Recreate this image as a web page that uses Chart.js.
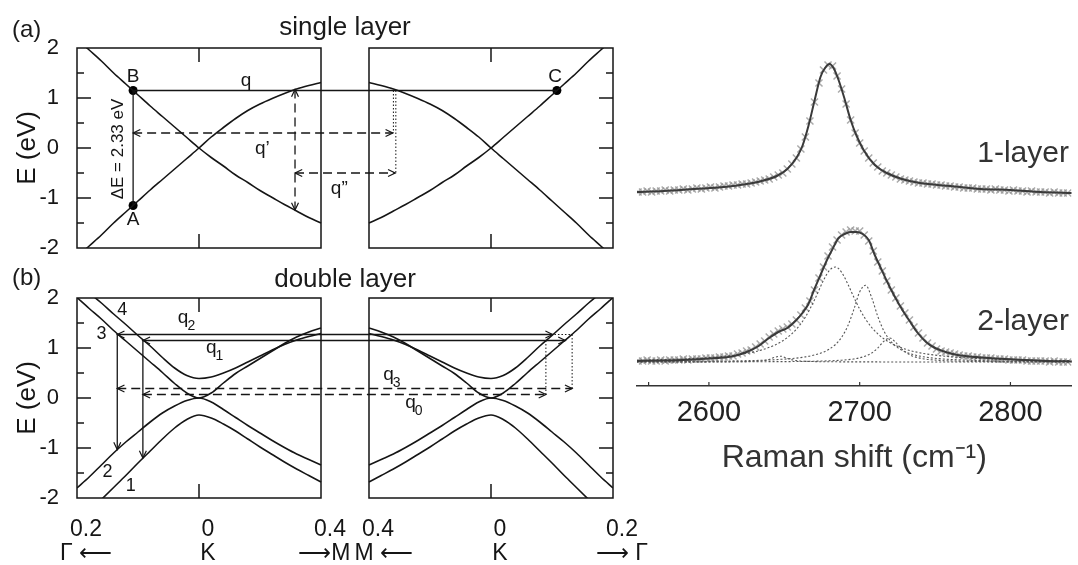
<!DOCTYPE html>
<html>
<head>
<meta charset="utf-8">
<script src="https://cdn.jsdelivr.net/npm/chart.js@4.4.1/dist/chart.umd.min.js"></script>
<style>
  html, body { margin: 0; padding: 0; background: #fff; }
  #page {
    position: relative; width: 1078px; height: 565px; overflow: hidden;
    font-family: 'Liberation Sans', Arial, sans-serif; color: #1a1a1a;
  }
  #page canvas { position: absolute; }
  .tag { position: absolute; line-height: 1; white-space: nowrap; }
</style>
</head>
<body>
<div id="page">
  <canvas id="single" width="660" height="270" style="left:0;top:0"></canvas>
  <canvas id="double" width="660" height="295" style="left:0;top:270px"></canvas>
  <canvas id="raman" width="448" height="565" style="left:630px;top:0"></canvas>
  <div class="tag" style="left:12px;top:17px;font-size:24px">(a)</div>
  <div class="tag" style="left:345px;top:13px;font-size:26px;transform:translateX(-50%)">single layer</div>
  <div class="tag" style="left:12px;top:265px;font-size:24px">(b)</div>
  <div class="tag" style="left:345px;top:265px;font-size:26px;transform:translateX(-50%)">double layer</div>
</div>
<script>
// ---- data ---------------------------------------------------------------
// k inside one panel: -1 = edge toward Γ, 0 = K, 1 = edge toward M
const kGrid = [-1, -0.9, -0.8, -0.7, -0.6, -0.5, -0.4, -0.3, -0.2, -0.1, 0,
  0.1, 0.2, 0.3, 0.4, 0.5, 0.6, 0.7, 0.8, 0.9, 1]

// single layer, E (eV)
const singleDown = [2.18, 1.96, 1.74, 1.5, 1.28, 1.06, 0.84, 0.63, 0.42, 0.21, 0,
  -0.19, -0.36, -0.54, -0.69, -0.85, -0.99, -1.13, -1.26, -1.39, -1.5]
const singleUp = [-2.18, -1.96, -1.74, -1.5, -1.28, -1.06, -0.84, -0.63, -0.42, -0.21, 0,
  0.22, 0.41, 0.59, 0.75, 0.88, 0.99, 1.09, 1.18, 1.25, 1.31]

// double layer bands 1..4, E (eV)
const bilayerBand1 = [-2.5, -2.27, -2.03, -1.79, -1.55, -1.3, -1.06, -0.82, -0.6, -0.43, -0.34,
  -0.4, -0.52, -0.66, -0.82, -0.98, -1.13, -1.28, -1.42, -1.55, -1.68]
const bilayerBand2 = [-1.8, -1.58, -1.34, -1.1, -0.88, -0.68, -0.48, -0.3, -0.16, -0.05, 0,
  -0.08, -0.23, -0.39, -0.55, -0.7, -0.85, -0.99, -1.12, -1.23, -1.34]
const bilayerBand3 = [2.01, 1.79, 1.58, 1.35, 1.14, 0.93, 0.72, 0.51, 0.29, 0.1, 0,
  0.1, 0.3, 0.49, 0.64, 0.79, 0.94, 1.09, 1.22, 1.32, 1.4]
const bilayerBand4 = [2.3, 2.1, 1.9, 1.68, 1.47, 1.25, 1.04, 0.81, 0.6, 0.45, 0.39,
  0.42, 0.5, 0.6, 0.72, 0.84, 0.96, 1.07, 1.16, 1.23, 1.29]

const energyTicks = [-2, -1, 0, 1, 2]
const energyMarks = [-1.5, -1, -0.5, 0, 0.5, 1, 1.5]

// the right panel is the mirror image (M on its left, Γ on its right);
// its K sits at this x: one panel width (2) plus the gap between panels
const RIGHT_K = 2.3934
const rk = v => RIGHT_K + v

const kTicks = [-1, 0, 1, rk(-1), rk(0), rk(1)]
const kTickLabels = [['0.2', 'Γ ⟵'], ['0', 'K'], ['0.4', '⟶M\u2002'], ['0.4', '\u2002M ⟵'], ['0', 'K'], ['0.2', '⟶ Γ']]

// transitions, [k, E] -> [k, E]
const singleArrows = [
  { from: [-0.54, -1.15], to: [-0.54, 1.15], style: 'solid' },
  { from: [-0.54, 1.15], to: [rk(0.54), 1.15], style: 'solid' },
  { from: [0.787, 1.17], to: [0.787, -1.24], style: 'dashed', heads: 'both' },
  { from: [-0.54, 0.3], to: [rk(-0.805), 0.3], style: 'dashed', heads: 'both' },
  { from: [0.787, -0.5], to: [rk(-0.785), -0.5], style: 'dashed', heads: 'both' },
  { from: [rk(-0.8), 1.15], to: [rk(-0.8), 0.3], style: 'dotted' },
  { from: [rk(-0.78), 1.15], to: [rk(-0.78), -0.5], style: 'dotted' },
]
const singlePoints = [[-0.54, 1.15], [-0.54, -1.15], [rk(0.54), 1.15]]
const singleLabels = [
  { text: 'B', k: -0.54, e: 1.42 },
  { text: 'A', k: -0.54, e: -1.44 },
  { text: 'C', k: rk(0.525), e: 1.42 },
  { text: 'q', k: 0.385, e: 1.34 },
  { text: 'q’', k: 0.52, e: -0.02 },
  { text: 'q”', k: 1.15, e: -0.82 },
  { text: 'ΔE = 2.33 eV', k: -0.66, e: -0.02, rotate: -90, size: 17 },
]

const doubleArrows = [
  { from: [-0.67, 1.27], to: [-0.67, -1.03], style: 'solid', heads: 'end' },
  { from: [-0.46, 1.16], to: [-0.46, -1.2], style: 'solid', heads: 'end' },
  { from: [-0.67, 1.27], to: [rk(0.505), 1.27], style: 'solid', heads: 'both' },
  { from: [-0.46, 1.15], to: [rk(0.61), 1.15], style: 'solid', heads: 'both' },
  { from: [-0.67, 0.19], to: [rk(0.665), 0.19], style: 'dashed', heads: 'both' },
  { from: [-0.46, 0.07], to: [rk(0.45), 0.07], style: 'dashed', heads: 'both' },
  { from: [rk(0.45), 1.15], to: [rk(0.45), 0.07], style: 'dotted' },
  { from: [rk(0.665), 1.27], to: [rk(0.665), 0.19], style: 'dotted' },
  { from: [rk(0.52), 1.27], to: [rk(0.665), 1.27], style: 'dotted' },
]
const doubleLabels = [
  { text: '4', k: -0.63, e: 1.76, size: 18 },
  { text: '3', k: -0.8, e: 1.28, size: 18 },
  { text: '2', k: -0.75, e: -1.48, size: 18 },
  { text: '1', k: -0.56, e: -1.76, size: 18 },
  { text: 'q', sub: '2', k: -0.13, e: 1.6 },
  { text: 'q', sub: '1', k: 0.1, e: 1.0 },
  { text: 'q', sub: '3', k: rk(-0.84), e: 0.46 },
  { text: 'q', sub: '0', k: rk(-0.66), e: -0.1 },
]

// Raman spectra (cm-1, counts in arb. units, 1-layer stacked above 2-layer)
const ramanShift = [2553, 2556, 2559, 2562, 2565, 2568, 2571, 2574, 2577, 2580,
  2583, 2586, 2589, 2592, 2595, 2598, 2601, 2604, 2607, 2610,
  2613, 2616, 2619, 2622, 2625, 2628, 2631, 2634, 2637, 2640,
  2643, 2646, 2649, 2652, 2655, 2658, 2661, 2664, 2667, 2670,
  2673, 2676, 2679, 2682, 2685, 2688, 2691, 2694, 2697, 2700,
  2703, 2706, 2709, 2712, 2715, 2718, 2721, 2724, 2727, 2730,
  2733, 2736, 2739, 2742, 2745, 2748, 2751, 2754, 2757, 2760,
  2763, 2766, 2769, 2772, 2775, 2778, 2781, 2784, 2787, 2790,
  2793, 2796, 2799, 2802, 2805, 2808, 2811, 2814, 2817, 2820,
  2823, 2826, 2829, 2832, 2835, 2838]
const oneLayerCounts = [194, 194, 195, 194, 195, 195, 196, 195, 196, 196,
  197, 196, 197, 198, 197, 198, 199, 198, 199, 200,
  200, 201, 201, 202, 202, 203, 204, 205, 206, 207,
  209, 211, 213, 217, 222, 228, 237, 249, 265, 284,
  303, 316, 321, 320, 310, 297, 282, 266, 253, 243,
  235, 228, 223, 219, 215, 213, 211, 209, 207, 206,
  205, 204, 203, 203, 202, 202, 201, 201, 200, 200,
  199, 199, 198, 198, 198, 197, 197, 197, 196, 197,
  196, 196, 195, 196, 195, 195, 194, 195, 194, 194,
  194, 193, 194, 193, 193, 193]
const twoLayerCounts = [25, 25, 26, 25, 25, 26, 25, 26, 26, 26,
  27, 26, 27, 27, 27, 28, 28, 28, 29, 29,
  30, 30, 32, 33, 35, 36, 39, 42, 45, 49,
  52, 55, 57, 59, 62, 66, 71, 78, 85, 96,
  108, 119, 130, 139, 146, 151, 154, 156, 155, 155,
  151, 145, 135, 124, 115, 105, 96, 88, 80, 73,
  66, 59, 53, 48, 43, 40, 37, 35, 34, 33,
  32, 31, 30, 30, 29, 29, 28, 28, 28, 27,
  27, 27, 26, 26, 26, 26, 25, 25, 25, 25,
  25, 24, 25, 24, 24, 24]

// fitted curves
const fitShift1 = [2552, 2570, 2590, 2610, 2625, 2635, 2645, 2652, 2658, 2662, 2666, 2670, 2674, 2677, 2680,
  2683, 2686, 2690, 2694, 2698, 2703, 2710, 2718, 2728, 2740, 2760, 2780, 2800, 2820, 2841]
const oneLayerFit = [194, 195, 197, 199, 202, 205, 210, 217, 228, 240, 260, 285, 309, 318, 322,
  317, 306, 287, 266, 250, 235, 221, 213, 207, 203, 200, 197, 196, 194, 193]
const fitShift2 = [2552, 2570, 2590, 2605, 2615, 2625, 2633, 2639, 2646, 2652, 2658, 2662, 2666, 2670, 2674,
  2678, 2682, 2686, 2690, 2694, 2698, 2702, 2706, 2710, 2714, 2718, 2722, 2726, 2730, 2734,
  2738, 2744, 2750, 2757, 2765, 2777, 2790, 2810, 2825, 2841]
const twoLayerFit = [25, 25.5, 26.5, 28, 29.5, 34, 40, 47, 54, 58, 66, 73, 82, 97, 111,
  125, 137, 148, 152, 154, 154, 152, 146, 131, 118, 105, 93, 82, 72, 63,
  54, 44, 38, 34, 31, 29, 27.5, 26, 25, 24.5]

// four components of the 2-layer fit
const compShift = [2552, 2570, 2590, 2605, 2620, 2630, 2638, 2644, 2648, 2652, 2658, 2664, 2670, 2676, 2680,
  2684, 2688, 2692, 2696, 2700, 2704, 2708, 2712, 2716, 2720, 2724, 2728, 2734, 2742, 2752,
  2765, 2780, 2800, 2841]
const compA = [24.0, 24.0, 24.1, 24.1, 24.3, 24.7, 25.8, 28.8, 29.8, 27.5, 25.4, 24.7, 24.4, 24.2, 24.2,
  24.2, 24.1, 24.1, 24.1, 24.1, 24.1, 24.1, 24.1, 24.0, 24.0, 24.0, 24.0, 24.0, 24.0, 24.0,
  24.0, 24.0, 24.0, 24.0]
const compB = [25.8, 26.5, 27.6, 29.0, 31.4, 34.1, 37.5, 41.1, 44.3, 48.4, 56.8, 69.0, 86.0, 105.6, 115.7,
  119.0, 113.7, 102.4, 89.2, 76.9, 66.6, 58.5, 52.2, 47.2, 43.4, 40.4, 38.0, 35.2, 32.6, 30.5,
  28.7, 27.4, 26.3, 25.3]
const compC = [24.4, 24.5, 24.7, 24.9, 25.2, 25.5, 25.9, 26.3, 26.7, 27.1, 27.9, 29.1, 31.0, 33.9, 37.0,
  41.6, 48.7, 59.7, 75.9, 94.1, 100.7, 88.2, 69.6, 55.3, 45.8, 39.7, 35.8, 32.1, 29.3, 27.4,
  26.2, 25.4, 24.9, 24.5]
const compD = [24.1, 24.1, 24.1, 24.2, 24.2, 24.2, 24.3, 24.4, 24.4, 24.4, 24.5, 24.6, 24.8, 25.0, 25.2,
  25.4, 25.8, 26.3, 27.0, 28.2, 30.0, 33.0, 38.0, 44.7, 48.0, 43.4, 36.8, 30.7, 27.3, 25.7,
  24.9, 24.5, 24.3, 24.1]

const ramanTicks = [2560, 2600, 2700, 2800]
const ramanTickLabels = ['', '2600', '2700', '2800']
const spectrumLabels = [
  { text: '1-layer', shift: 2778, counts: 232 },
  { text: '2-layer', shift: 2778, counts: 64 },
]

// ---- shared bits --------------------------------------------------------
const FONT = "'Liberation Sans', Arial, sans-serif"
const INK = '#151515'
Chart.defaults.font.family = FONT
Chart.defaults.color = INK

const dashes = { solid: [], dashed: [9, 5], dotted: [1.5, 2] }
const xy = (xs, ys) => xs.map((x, i) => ({ x, y: ys[i] }))

function drawHead(ctx, tip, from) {
  const ang = Math.atan2(tip.y - from.y, tip.x - from.x)
  const len = 8, spread = 0.45
  ctx.beginPath()
  ctx.moveTo(tip.x - len * Math.cos(ang - spread), tip.y - len * Math.sin(ang - spread))
  ctx.lineTo(tip.x, tip.y)
  ctx.lineTo(tip.x - len * Math.cos(ang + spread), tip.y - len * Math.sin(ang + spread))
  ctx.stroke()
}

// panel frames with inside ticks
const framePlugin = {
  id: 'frames',
  afterDatasetsDraw(chart) {
    const { ctx, scales: { x, y } } = chart
    const top = y.getPixelForValue(2), bot = y.getPixelForValue(-2)
    const seg = (x1, y1, x2, y2) => { ctx.beginPath(); ctx.moveTo(x1, y1); ctx.lineTo(x2, y2); ctx.stroke() }
    ctx.save()
    ctx.strokeStyle = INK
    ctx.lineWidth = 1.5
    ;[[0, 'left'], [RIGHT_K, 'right']].forEach(([k, side]) => {
      const l = x.getPixelForValue(k - 1), r = x.getPixelForValue(k + 1)
      ctx.strokeRect(l, top, r - l, bot - top)
      const kx = x.getPixelForValue(k)
      seg(kx, top, kx, top + 14)
      seg(kx, bot, kx, bot - 14)
      energyMarks.forEach(e => {
        const len = Number.isInteger(e) ? 14 : 7
        const py = y.getPixelForValue(e)
        if (side === 'left') seg(l, py, l + len, py)
        else seg(r, py, r - len, py)
      })
    })
    ctx.restore()
  }
}

const arrowPlugin = {
  id: 'arrowHeads',
  afterDatasetsDraw(chart) {
    const { ctx } = chart
    ctx.save()
    ctx.strokeStyle = INK
    ctx.lineWidth = 1.2
    ctx.setLineDash([])
    chart.data.datasets.forEach((ds, i) => {
      if (!ds.heads) return
      const pts = chart.getDatasetMeta(i).data
      const a = pts[0], b = pts[pts.length - 1]
      if (ds.heads === 'end' || ds.heads === 'both') drawHead(ctx, b, a)
      if (ds.heads === 'start' || ds.heads === 'both') drawHead(ctx, a, b)
    })
    ctx.restore()
  }
}

function labelPlugin(items) {
  return {
    id: 'bandLabels',
    afterDatasetsDraw(chart) {
      const { ctx, scales: { x, y } } = chart
      items.forEach(t => {
        const px = x.getPixelForValue(t.k), py = y.getPixelForValue(t.e)
        ctx.save()
        ctx.fillStyle = INK
        ctx.textAlign = 'center'
        ctx.textBaseline = 'middle'
        ctx.font = `${t.size || 19}px ${FONT}`
        ctx.translate(px, py)
        if (t.rotate) ctx.rotate(t.rotate * Math.PI / 180)
        ctx.fillText(t.text, 0, 0)
        if (t.sub) {
          const w = ctx.measureText(t.text).width
          ctx.font = `14px ${FONT}`
          ctx.textAlign = 'left'
          ctx.fillText(t.sub, w / 2 - 1, 8)
        }
        ctx.restore()
      })
    }
  }
}

function bandLine(data) {
  return { data, borderColor: INK, borderWidth: 1.6, pointRadius: 0, cubicInterpolationMode: 'monotone' }
}

// 1. band structure panels ------------------------------------------------
function bandChart(id, bands, arrows, dots, labels, showK, pad) {
  const datasets = []
  bands.forEach(values => {
    const left = kGrid.map((k, i) => ({ x: k, y: values[i] }))
    const right = kGrid.map((k, i) => ({ x: RIGHT_K - k, y: values[i] })).reverse()
    datasets.push(bandLine(left), bandLine(right))
  })
  arrows.forEach(a => {
    datasets.push({
      data: [{ x: a.from[0], y: a.from[1] }, { x: a.to[0], y: a.to[1] }],
      borderColor: INK,
      borderWidth: a.style === 'dotted' ? 1 : 1.3,
      borderDash: dashes[a.style],
      pointRadius: 0,
      tension: 0,
      heads: a.heads,
    })
  })
  if (dots.length) {
    datasets.push({
      data: dots.map(([x, y]) => ({ x, y })),
      showLine: false,
      pointRadius: 4.5,
      pointBackgroundColor: '#000',
      pointBorderWidth: 0,
    })
  }

  return new Chart(document.getElementById(id), {
    type: 'line',
    data: { datasets },
    options: {
      responsive: false,
      animation: false,
      events: [],
      layout: { padding: pad },
      plugins: { legend: { display: false }, tooltip: { enabled: false } },
      scales: {
        x: {
          type: 'linear',
          min: -1,
          max: RIGHT_K + 1,
          display: showK,
          afterBuildTicks: s => { s.ticks = kTicks.map(v => ({ value: v })) },
          afterFit: s => {
            if (!showK) return
            s.height = 67; s.paddingLeft = 0; s.paddingRight = 0
          },
          grid: { display: false },
          border: { display: false },
          ticks: {
            autoSkip: false,
            maxRotation: 0,
            padding: 12,
            labelOffset: 9,
            color: INK,
            font: { size: 23, lineHeight: 1.02 },
            callback: (v, i) => kTickLabels[i],
          },
        },
        y: {
          min: -2,
          max: 2,
          afterBuildTicks: s => { s.ticks = energyTicks.map(v => ({ value: v })) },
          afterFit: s => { s.width = 77; s.paddingTop = 0; s.paddingBottom = 0 },
          grid: { display: false },
          border: { display: false },
          ticks: { padding: 10, color: INK, font: { size: 22 }, callback: v => String(v) },
          title: { display: true, text: 'E (eV)', color: INK, font: { size: 26 }, padding: { top: 12, bottom: 0 } },
        },
      },
    },
    plugins: [framePlugin, arrowPlugin, labelPlugin(labels)],
  })
}

bandChart('single', [singleDown, singleUp], singleArrows, singlePoints, singleLabels, false,
  { left: 0, right: 47, top: 48, bottom: 22 })
bandChart('double', [bilayerBand1, bilayerBand2, bilayerBand3, bilayerBand4], doubleArrows, [], doubleLabels, true,
  { left: 0, right: 47, top: 28, bottom: 0 })

// 2. Raman 2D peak -------------------------------------------------------
const ramanPlugin = {
  id: 'ramanExtras',
  afterDatasetsDraw(chart) {
    const { ctx, scales: { x, y } } = chart
    ctx.save()
    ctx.strokeStyle = '#333'
    ctx.lineWidth = 1.2
    const base = chart.chartArea.bottom
    ramanTicks.forEach(v => {
      const px = x.getPixelForValue(v)
      ctx.beginPath(); ctx.moveTo(px, base); ctx.lineTo(px, base - 4); ctx.stroke()
    })
    ctx.fillStyle = '#333'
    ctx.font = `30px ${FONT}`
    ctx.textAlign = 'left'
    ctx.textBaseline = 'middle'
    spectrumLabels.forEach(t => ctx.fillText(t.text, x.getPixelForValue(t.shift), y.getPixelForValue(t.counts)))
    ctx.restore()
  }
}

const fitStyle = { borderColor: '#3a3a3a', borderWidth: 2, pointRadius: 0, cubicInterpolationMode: 'monotone', order: 0 }
const crossStyle = {
  showLine: false, pointStyle: 'crossRot', pointRadius: 5, pointBorderWidth: 1.5,
  pointBorderColor: 'rgba(150,150,150,0.8)', order: 3,
}
const compStyle = {
  borderColor: '#555', borderWidth: 1.1, borderDash: [2, 2], pointRadius: 0,
  cubicInterpolationMode: 'monotone', order: 1,
}

new Chart(document.getElementById('raman'), {
  type: 'line',
  data: {
    datasets: [
      { label: '1-layer fit', data: xy(fitShift1, oneLayerFit), ...fitStyle },
      { label: '1-layer', data: xy(ramanShift, oneLayerCounts), ...crossStyle },
      { label: '2-layer fit', data: xy(fitShift2, twoLayerFit), ...fitStyle },
      { label: '2-layer', data: xy(ramanShift, twoLayerCounts), ...crossStyle },
      { label: 'P1', data: xy(compShift, compA), ...compStyle },
      { label: 'P2', data: xy(compShift, compB), ...compStyle },
      { label: 'P3', data: xy(compShift, compC), ...compStyle },
      { label: 'P4', data: xy(compShift, compD), ...compStyle },
    ],
  },
  options: {
    responsive: false,
    animation: false,
    events: [],
    layout: { padding: { left: 7, right: 0, top: 40, bottom: 79 } },
    plugins: { legend: { display: false }, tooltip: { enabled: false } },
    scales: {
      x: {
        type: 'linear',
        min: 2552.3,
        max: 2840.5,
        afterBuildTicks: s => { s.ticks = ramanTicks.map(v => ({ value: v })) },
        afterFit: s => { s.height = 100; s.paddingLeft = 0; s.paddingRight = 0 },
        grid: { display: false },
        border: { display: true, color: '#333', width: 1.5 },
        ticks: {
          autoSkip: false, maxRotation: 0, padding: 2, color: '#222',
          font: { size: 29 }, callback: (v, i) => ramanTickLabels[i],
        },
        title: {
          display: true, text: 'Raman shift (cm⁻¹)', color: '#333',
          font: { size: 32 }, padding: { top: 0, bottom: 9 },
        },
      },
      y: { display: false, min: 0, max: 346 },
    },
  },
  plugins: [ramanPlugin],
})
</script>
</body>
</html>
